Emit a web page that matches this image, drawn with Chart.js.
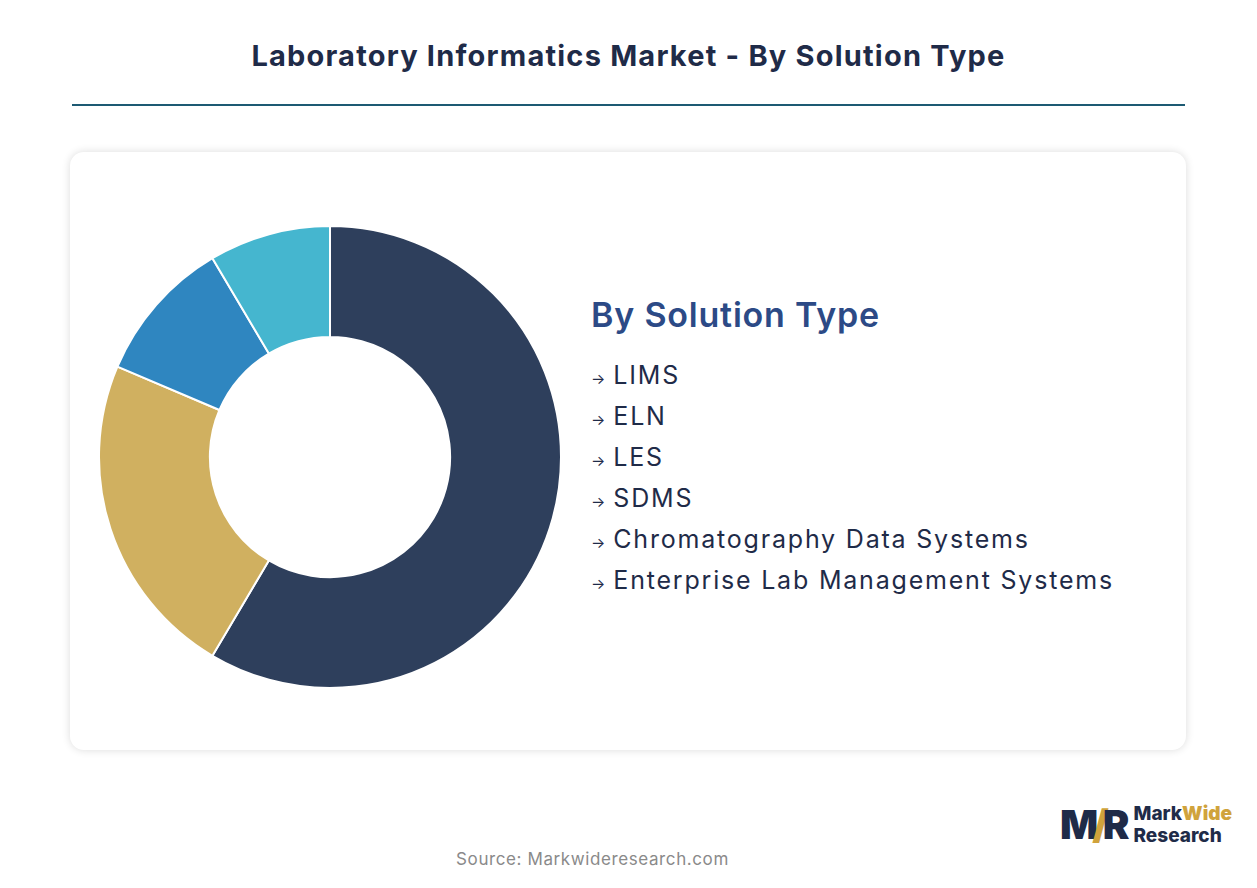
<!DOCTYPE html>
<html>
<head>
<meta charset="utf-8">
<script src="https://cdn.jsdelivr.net/npm/chart.js@4"></script>
<style>
  body { margin: 0; width: 1257px; height: 888px; background: #fff; font-family: Inter, "Noto Sans", sans-serif; position: relative; overflow: hidden; }
  h1 { position: absolute; top: 38px; left: 0; width: 1257px; text-align: center; margin: 0; font-size: 29px; font-weight: 700; color: #1f2b48; letter-spacing: 1.2px; }
  .rule { position: absolute; top: 104px; left: 72px; width: 1113px; height: 2px; background: #1d5a73; }
  .card { position: absolute; left: 70px; top: 152px; width: 1116px; height: 598px; border-radius: 14px; background: #fff; box-shadow: 0 0 8px rgba(0,0,0,0.14); }
  .chartbox { position: absolute; left: 98px; top: 225px; width: 464px; height: 464px; }
  .legend { position: absolute; left: 591px; top: 294px; }
  .legend h2 { margin: 0 0 20px 0; font-size: 34px; font-weight: 600; color: #2c4a86; letter-spacing: 0.8px; }
  .legend div { font-size: 25px; color: #1f2b48; height: 41px; line-height: 41px; letter-spacing: 1.8px; }
  .legend span { font-size: 15px; margin-right: 8px; letter-spacing: 0; }
  .source { position: absolute; top: 849px; left: 0; width: 1185px; text-align: center; font-size: 17px; color: #8a8a8a; letter-spacing: 0.6px; }
  .logo { position: absolute; left: 1060px; top: 800px; display: flex; align-items: center; }
  .mark { font-size: 40px; font-weight: 900; color: #1f2b48; letter-spacing: -6px; margin-right: 10px; }
  .mark b { color: #d0a33c; }
  .word { font-size: 19px; font-weight: 800; line-height: 22px; color: #1f2b48; }
  .word b { color: #d0a33c; }
</style>
</head>
<body>
<h1>Laboratory Informatics Market - By Solution Type</h1>
<div class="rule"></div>
<div class="card"></div>
<div class="chartbox"><canvas id="c"></canvas></div>
<div class="legend" id="legend"><h2>By Solution Type</h2></div>
<div class="logo"><div class="mark">M<b>/</b>R</div><div class="word">Mark<b>Wide</b><br>Research</div></div>
<div class="source">Source: Markwideresearch.com</div>
<script>
const categories = ['LIMS', 'ELN', 'LES', 'SDMS', 'Chromatography Data Systems', 'Enterprise Lab Management Systems'];
const sliceLabels = ['LIMS', 'ELN', 'LES', 'SDMS'];
const shares = [58.5, 22.9, 10.1, 8.5];
const colors = ['#2e3f5c', '#d0b060', '#2f86c0', '#45b6cf'];

const legend = document.getElementById('legend');
categories.forEach(name => {
  const d = document.createElement('div');
  d.innerHTML = '<span>→</span>' + name;
  legend.appendChild(d);
});

new Chart(document.getElementById('c'), {
  type: 'doughnut',
  data: {
    labels: sliceLabels,
    datasets: [{
      data: shares,
      backgroundColor: colors,
      borderColor: '#ffffff',
      borderWidth: 2
    }]
  },
  options: {
    responsive: true,
    maintainAspectRatio: false,
    animation: false,
    cutout: '52%',
    plugins: {
      legend: { display: false },
      tooltip: { enabled: false }
    }
  }
});
</script>
</body>
</html>
